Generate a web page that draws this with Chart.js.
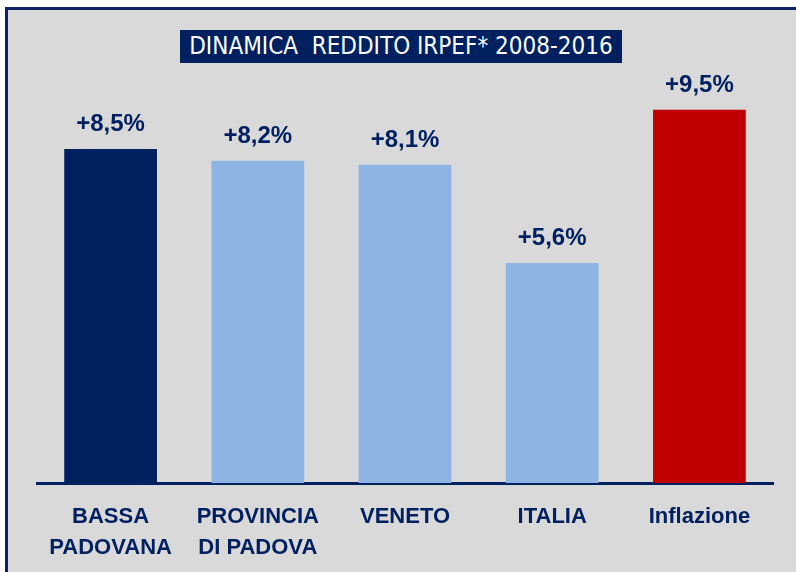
<!DOCTYPE html>
<html>
<head>
<meta charset="utf-8">
<script src="https://cdn.jsdelivr.net/npm/chart.js@4/dist/chart.umd.min.js"></script>
<style>
    html, body { margin: 0; padding: 0; background: #ffffff; }
    #wrap { position: relative; width: 796px; height: 572px; overflow: hidden; }
    #frame {
        position: absolute; left: 5px; top: 7px; width: 800px; height: 580px;
        background: #d9d9d9; border-left: 3px solid #0d2463; border-top: 3px solid #0d2463;
    }
    #title {
        position: absolute; left: 180px; top: 30px; width: 442px; height: 33px;
        background: #002060; color: #ffffff; text-align: center;
        font-family: "Liberation Sans Narrow", "DejaVu Sans Condensed", sans-serif;
        font-size: 24px; line-height: 33px; white-space: pre;
    }
    #chart { position: absolute; left: 0; top: 0; }
</style>
</head>
<body>
<div id="wrap">
    <div id="frame"></div>
    <div id="title">DINAMICA  REDDITO IRPEF* 2008-2016</div>
    <canvas id="chart" width="796" height="572"></canvas>
</div>
<script>
const categories = [["BASSA", "PADOVANA"], ["PROVINCIA", "DI PADOVA"], "VENETO", "ITALIA", "Inflazione"];
const values = [8.5, 8.2, 8.1, 5.6, 9.5];
const barColors = ["#002060", "#8eb4e3", "#8eb4e3", "#8eb4e3", "#c00000"];

const navy = "#002060";

// scritte sopra le barre
const valueLabels = {
    id: "valueLabels",
    afterDatasetsDraw(chart) {
        const ctx = chart.ctx;
        const meta = chart.getDatasetMeta(0);
        ctx.save();
        ctx.fillStyle = navy;
        ctx.font = "bold 24px 'Liberation Sans', Arial, sans-serif";
        ctx.textAlign = "center";
        ctx.textBaseline = "alphabetic";
        meta.data.forEach((bar, i) => {
            const txt = "+" + values[i].toFixed(1).replace(".", ",") + "%";
            ctx.fillText(txt, bar.x, bar.y - 18);
        });
        ctx.restore();
    }
};

new Chart(document.getElementById("chart"), {
    type: "bar",
    data: {
        labels: categories,
        datasets: [
            {
                data: values,
                backgroundColor: barColors,
                borderWidth: 0,
                categoryPercentage: 1,
                barPercentage: 0.63,
            },
        ],
    },
    options: {
        responsive: false,
        animation: false,
        layout: { padding: { left: 37, right: 23, top: 90, bottom: 0 } },
        plugins: { legend: { display: false }, tooltip: { enabled: false } },
        scales: {
            y: { display: false, min: 0, max: 10 },
            x: {
                grid: { display: false, drawTicks: false },
                border: { display: true, color: navy, width: 3 },
                ticks: {
                    color: navy,
                    padding: 19,
                    maxRotation: 0,
                    autoSkip: false,
                    font: { family: "'Liberation Sans', Arial, sans-serif", size: 22, weight: "bold", lineHeight: 1.4 },
                },
                afterFit: (scale) => { scale.height = 89; },
            },
        },
    },
    plugins: [valueLabels],
});
</script>
</body>
</html>
